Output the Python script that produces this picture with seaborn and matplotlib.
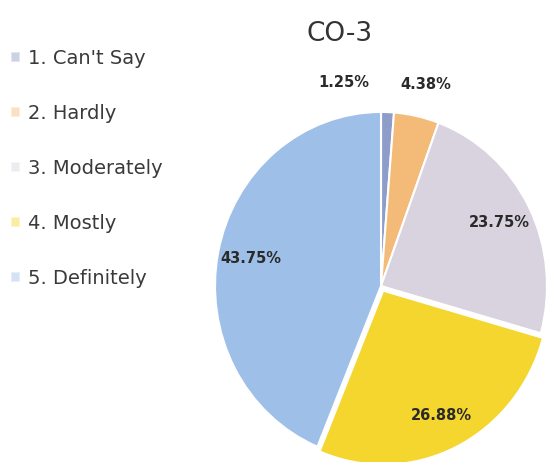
import numpy as np
import matplotlib
matplotlib.use('Agg')
import matplotlib.pyplot as plt
import seaborn as sns

sns.set_style("white")
plt.rcParams['font.family'] = ['DejaVu Sans']

# data
categories = ["1. Can't Say", "2. Hardly", "3. Moderately", "4. Mostly", "5. Definitely"]
shares = [1.25, 4.38, 23.75, 26.88, 43.75]
colors = ['#8e9cc9', '#f4bb78', '#d8d3df', '#f4d62e', '#9ec0e8']
title = 'CO-3'

fig = plt.figure(figsize=(5.5, 4.62), dpi=100)
# pie is a touch taller than wide in the scan
ax = fig.add_axes([0.3155, -0.0898, 0.7545, 0.9416])

explode = [0, 0, 0, 0.03, 0]
wedges, texts, autotexts = ax.pie(
    shares, colors=colors, startangle=90, counterclock=False,
    explode=explode, autopct='%.2f%%', pctdistance=0.8,
    wedgeprops={'edgecolor': 'white', 'linewidth': 1.5},
    textprops={'fontsize': 10.5, 'fontweight': 'bold', 'color': '#2a2a2a'})
ax.set_xlim(-1.25, 1.25)
ax.set_ylim(-1.25, 1.25)
ax.set_aspect('auto')
ax.axis('off')

# the two thin slices carry their labels outside, spread apart
for t, ang in zip(autotexts[:2], [101, 77]):
    a = np.deg2rad(ang)
    t.set_position((1.19 * np.cos(a), 1.19 * np.sin(a)))

fig.text(0.618, 0.926, title, ha='center', va='center', fontsize=19,
         color='#333333')

leg = fig.legend(wedges, categories, loc='upper left', bbox_to_anchor=(-0.012, 0.932),
                 frameon=False, fontsize=14, labelspacing=1.85,
                 handlelength=0.45, handleheight=0.45, handletextpad=0.45,
                 labelcolor='#3a3a3a')
for h in leg.legend_handles:
    h.set_alpha(0.45)

fig.savefig('out.png', dpi=100)
